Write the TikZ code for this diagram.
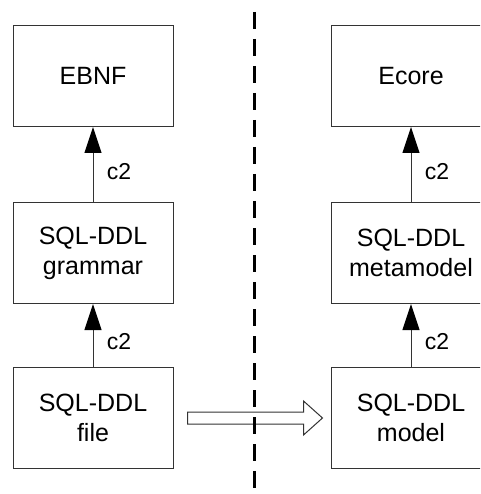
\documentclass[tikz,border=0pt]{standalone}
\usepackage{fontspec}
\setmainfont{Liberation Sans}
\usetikzlibrary{arrows.meta,positioning,calc}

\begin{document}
\begin{tikzpicture}[x=1pt, y=-1pt,
        box/.style={draw=black!80, line width=1pt, minimum width=160pt, minimum height=101pt,
                    inner sep=0pt, align=center, font=\fontsize{25}{30}\selectfont},
        conforms/.style={draw=black!80, line width=1pt,
                         -{Triangle[length=26pt, width=17pt, color=black, fill=black]}},
        clabel/.style={right, xshift=10pt, font=\fontsize{23}{27}\selectfont},
        hollow/.style={draw=black!80, line width=1pt, fill=white}]
    \useasboundingbox (0,0) rectangle (480,494);
    \begin{scope}
        \clip (0,0) rectangle (480,494);

        % grammarware side
        \node[box] (ebnf) at (93,76) {EBNF};
        \node[box, below=75pt of ebnf] (grammar) {SQL-DDL\\grammar};
        \node[box, below=63pt of grammar] (file) {SQL-DDL\\file};

        % modelware side
        \node[box, right=157pt of ebnf] (ecore) {Ecore};
        \node[box, right=157pt of grammar] (metamodel) {SQL-DDL\\metamodel};
        \node[box, right=157pt of file] (model) {SQL-DDL\\model};

        \draw[conforms] (grammar) -- node[clabel, pos=0.4] {c2} (ebnf);
        \draw[conforms] (file) -- node[clabel, pos=0.4] {c2} (grammar);
        \draw[conforms] (metamodel) -- node[clabel, pos=0.4] {c2} (ecore);
        \draw[conforms] (model) -- node[clabel, pos=0.4] {c2} (metamodel);

        % transformation
        \coordinate[left=8pt of model.west] (tip);
        \draw[hollow] ($(file.east)+(14,-6)$) -- ($(tip)+(-19,-6)$) -- ($(tip)+(-19,-17)$)
            -- (tip) -- ($(tip)+(-19,17)$) -- ($(tip)+(-19,6)$) -- ($(file.east)+(14,6)$) -- cycle;

        % separator
        \draw[line width=3pt, dash pattern=on 17pt off 10pt] (254,12) -- (254,494);
    \end{scope}
\end{tikzpicture}
\end{document}
